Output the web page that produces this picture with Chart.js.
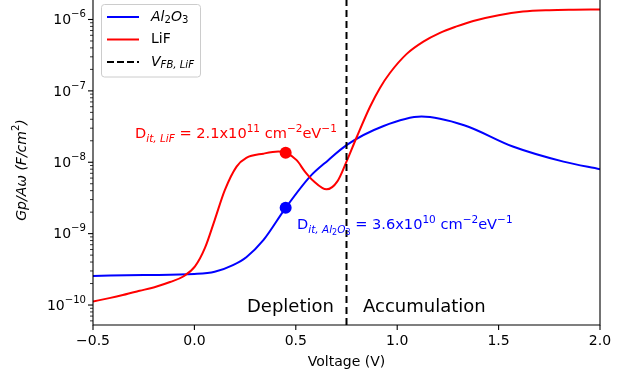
<!DOCTYPE html>
<html>
<head>
<meta charset="utf-8">
<script src="https://cdn.jsdelivr.net/npm/chart.js@4.4.1/dist/chart.umd.min.js"></script>
<style>
  html, body { margin: 0; padding: 0; background: #fff; }
  #wrap { width: 633px; height: 379px; }
</style>
</head>
<body>
<div id="wrap"><canvas id="chart" width="633" height="379"></canvas></div>
<script>
// Al2O3 curve (Gp/Aw in F/cm^2 vs voltage)
const voltageAl = [-0.5, -0.25, 0.0, 0.1, 0.19, 0.256, 0.34, 0.45, 0.57, 0.66, 0.75, 0.93, 1.12, 1.33, 1.57, 1.82, 2.0];
const gpAl = [2.56e-10, 2.63e-10, 2.72e-10, 2.92e-10, 3.63e-10, 4.68e-10, 8.1e-10, 2.3e-9, 6.3e-9, 1.07e-8, 1.74e-8, 3.2e-8, 4.37e-8, 3.3e-8, 1.66e-8, 1.02e-8, 8.0e-9];

// LiF curve
const voltageLiF = [-0.5, -0.42, -0.353, -0.27, -0.186, -0.12, -0.055, 0.003, 0.052, 0.10, 0.15, 0.208, 0.256, 0.34, 0.414, 0.45, 0.504, 0.545, 0.586, 0.652, 0.705, 0.75, 0.80, 0.866, 0.915, 0.964, 1.047, 1.129, 1.211, 1.293, 1.375, 1.50, 1.62, 1.75, 1.87, 2.0];
const gpLiF = [1.12e-10, 1.25e-10, 1.38e-10, 1.58e-10, 1.82e-10, 2.1e-10, 2.51e-10, 3.47e-10, 6.3e-10, 1.55e-9, 4.07e-9, 8.7e-9, 1.15e-8, 1.32e-8, 1.41e-8, 1.36e-8, 1.07e-8, 7.4e-9, 5.5e-9, 4.17e-9, 5.4e-9, 1.02e-8, 2.24e-8, 6.0e-8, 1.1e-7, 1.78e-7, 3.3e-7, 4.9e-7, 6.5e-7, 8.0e-7, 9.55e-7, 1.15e-6, 1.29e-6, 1.35e-6, 1.37e-6, 1.38e-6];

// flat-band voltage and the two Dit markers
const vFB = 0.75;
const dotVoltage = 0.45;
const dotAl = 2.3e-9;
const dotLiF = 1.36e-8;

// axes
const xMin = -0.5, xMax = 2.0;
const yMin = 5.25e-11, yMax = 1.875e-6;
const xTicks = [-0.5, 0.0, 0.5, 1.0, 1.5, 2.0];
const xTickLabels = ['\u22120.5', '0.0', '0.5', '1.0', '1.5', '2.0'];
const yTickExps = [-10, -9, -8, -7, -6];

const FONT = '"DejaVu Sans", sans-serif';
const pts = (xs, ys) => xs.map((x, i) => ({ x: x, y: ys[i] }));

// draws text with mathtext-like sub/superscripts
function richText(ctx, x, y, parts, size, color, align) {
  const fontFor = p => {
    let s = size;
    if (p.s === 'sub' || p.s === 'sup') s = size * 0.72;
    if (p.s === 'subsub') s = size * 0.55;
    return (p.it ? 'italic ' : '') + s.toFixed(1) + 'px ' + FONT;
  };
  const shift = p => p.s === 'sub' ? size * 0.25 : p.s === 'sup' ? -size * 0.42 : p.s === 'subsub' ? size * 0.4 : 0;
  let w = 0;
  parts.forEach(p => { ctx.font = fontFor(p); w += ctx.measureText(p.t).width; });
  let cx = align === 'right' ? x - w : align === 'center' ? x - w / 2 : x;
  ctx.fillStyle = color;
  ctx.textAlign = 'left';
  parts.forEach(p => {
    ctx.font = fontFor(p);
    ctx.fillText(p.t, cx, y + shift(p));
    cx += ctx.measureText(p.t).width;
  });
  return w;
}

const decorations = {
  id: 'decorations',
  afterDraw(chart) {
    const ctx = chart.ctx;
    const a = chart.chartArea;
    const xs = chart.scales.x, ys = chart.scales.y;
    ctx.save();

    // spines
    ctx.strokeStyle = '#000';
    ctx.lineWidth = 1.1;
    ctx.beginPath();
    ctx.moveTo(a.left, a.top); ctx.lineTo(a.left, a.bottom); ctx.lineTo(a.right, a.bottom); ctx.lineTo(a.right, a.top);
    ctx.stroke();

    // x ticks
    ctx.textBaseline = 'middle';
    xTicks.forEach((v, i) => {
      const px = xs.getPixelForValue(v);
      ctx.beginPath(); ctx.moveTo(px, a.bottom); ctx.lineTo(px, a.bottom + 5); ctx.stroke();
      ctx.font = '14px ' + FONT;
      ctx.fillStyle = '#000';
      ctx.textAlign = 'center';
      ctx.fillText(xTickLabels[i], px, a.bottom + 16);
    });
    ctx.font = '14px ' + FONT;
    ctx.textAlign = 'center';
    ctx.fillText('Voltage (V)', (a.left + a.right) / 2, a.bottom + 37);

    // y ticks: decades + minor
    for (let n = -11; n <= -6; n++) {
      for (let k = 1; k <= 9; k++) {
        const v = k * Math.pow(10, n);
        if (v < yMin || v > yMax) continue;
        const py = ys.getPixelForValue(v);
        ctx.lineWidth = k === 1 ? 1.1 : 0.8;
        ctx.beginPath(); ctx.moveTo(a.left, py); ctx.lineTo(a.left - (k === 1 ? 5 : 3), py); ctx.stroke();
      }
    }
    yTickExps.forEach(e => {
      const py = ys.getPixelForValue(Math.pow(10, e));
      ctx.textBaseline = 'middle';
      richText(ctx, a.left - 7, py + 1, [{ t: '10' }, { t: '\u2212' + Math.abs(e), s: 'sup' }], 14, '#000', 'right');
    });

    // y title
    ctx.save();
    ctx.translate(22, 170);
    ctx.rotate(-Math.PI / 2);
    ctx.textBaseline = 'middle';
    richText(ctx, 0, 0, [{ t: 'Gp/A\u03c9 (F/cm', it: 1 }, { t: '2', s: 'sup' }, { t: ')', it: 1 }], 14, '#000', 'center');
    ctx.restore();

    // annotations
    ctx.textBaseline = 'alphabetic';
    richText(ctx, 135, 138, [
      { t: 'D' }, { t: 'it, LiF', it: 1, s: 'sub' }, { t: ' = 2.1x10' }, { t: '11', s: 'sup' },
      { t: ' cm' }, { t: '\u22122', s: 'sup' }, { t: 'eV' }, { t: '\u22121', s: 'sup' }
    ], 14.6, '#ff0000', 'left');
    richText(ctx, 297, 229, [
      { t: 'D' }, { t: 'it, Al', it: 1, s: 'sub' }, { t: '2', s: 'subsub' }, { t: 'O', it: 1, s: 'sub' }, { t: '3', s: 'subsub' },
      { t: ' = 3.6x10' }, { t: '10', s: 'sup' }, { t: ' cm' }, { t: '\u22122', s: 'sup' }, { t: 'eV' }, { t: '\u22121', s: 'sup' }
    ], 14.6, '#0000ff', 'left');
    ctx.font = '18px ' + FONT;
    ctx.fillStyle = '#000';
    ctx.textAlign = 'left';
    ctx.fillText('Depletion', 247, 312);
    ctx.fillText('Accumulation', 363, 312);

    // legend
    ctx.beginPath();
    ctx.roundRect(101.5, 4.5, 99, 72.5, 3);
    ctx.fillStyle = 'rgba(255,255,255,0.8)';
    ctx.fill();
    ctx.strokeStyle = '#cccccc';
    ctx.lineWidth = 1;
    ctx.stroke();
    const rows = [
      { color: '#0000ff', dash: [], y: 17, parts: [{ t: 'Al', it: 1 }, { t: '2', s: 'sub' }, { t: 'O', it: 1 }, { t: '3', s: 'sub' }] },
      { color: '#ff0000', dash: [], y: 39.5, parts: [{ t: 'LiF' }] },
      { color: '#000000', dash: [7, 3], y: 62, parts: [{ t: 'V', it: 1 }, { t: 'FB, LiF', it: 1, s: 'sub' }] }
    ];
    rows.forEach(r => {
      ctx.strokeStyle = r.color;
      ctx.lineWidth = 2;
      ctx.setLineDash(r.dash);
      ctx.beginPath(); ctx.moveTo(107, r.y); ctx.lineTo(139, r.y); ctx.stroke();
      ctx.setLineDash([]);
      ctx.textBaseline = 'middle';
      richText(ctx, 151, r.y, r.parts, 14, '#000', 'left');
    });
    ctx.restore();
  }
};

new Chart(document.getElementById('chart'), {
  type: 'line',
  data: {
    datasets: [
      { label: 'Dit LiF', data: [{ x: dotVoltage, y: dotLiF }], showLine: false, pointRadius: 6, pointBackgroundColor: '#ff0000', pointBorderWidth: 0, order: 0 },
      { label: 'Dit Al2O3', data: [{ x: dotVoltage, y: dotAl }], showLine: false, pointRadius: 6, pointBackgroundColor: '#0000ff', pointBorderWidth: 0, order: 0 },
      { label: 'V_FB,LiF', data: [{ x: vFB, y: yMin }, { x: vFB, y: yMax }], borderColor: '#000', borderWidth: 2, borderDash: [7, 4], pointRadius: 0, order: 1 },
      { label: 'LiF', data: pts(voltageLiF, gpLiF), borderColor: '#ff0000', borderWidth: 2, pointRadius: 0, cubicInterpolationMode: 'monotone', order: 2 },
      { label: 'Al2O3', data: pts(voltageAl, gpAl), borderColor: '#0000ff', borderWidth: 2, pointRadius: 0, cubicInterpolationMode: 'monotone', order: 3 }
    ]
  },
  options: {
    responsive: false,
    animation: false,
    devicePixelRatio: 1,
    layout: { autoPadding: false, padding: { left: 0, right: 33, top: 0, bottom: 0 } },
    plugins: { legend: { display: false }, tooltip: { enabled: false } },
    scales: {
      x: {
        type: 'linear', min: xMin, max: xMax,
        ticks: { display: false }, grid: { display: false }, border: { display: false },
        afterFit: s => { s.height = 54; }
      },
      y: {
        type: 'logarithmic', min: yMin, max: yMax,
        ticks: { display: false }, grid: { display: false }, border: { display: false },
        afterFit: s => { s.width = 93; }
      }
    }
  },
  plugins: [decorations]
});
</script>
</body>
</html>
